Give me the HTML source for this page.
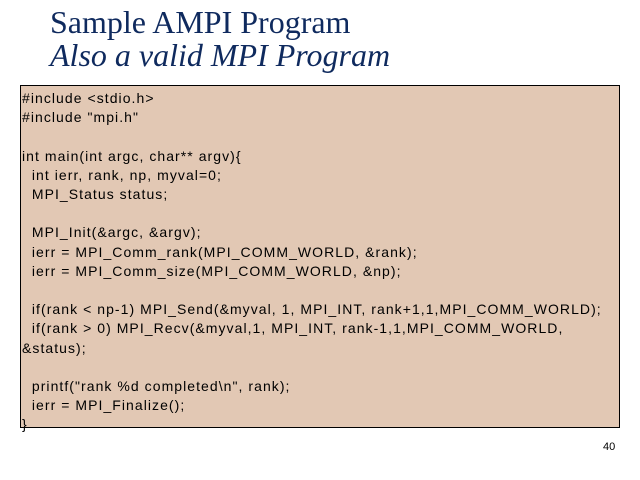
<!DOCTYPE html>
<html><head><style>
body{margin:0;width:640px;height:480px;background:#fff;position:relative;overflow:hidden}
.t{position:absolute;left:50px;font-family:"Liberation Serif",serif;color:#0f2a5e;font-size:32px;white-space:nowrap}
#box{position:absolute;left:20px;top:85px;width:598px;height:341px;background:#e2c8b4;border:1px solid #000}
pre{position:absolute;left:22px;top:89px;margin:0;font-family:"Liberation Sans",sans-serif;font-size:14px;letter-spacing:1.05px;line-height:19.2px;color:#000}
#n{position:absolute;left:603px;top:441px;font-family:"Liberation Sans",sans-serif;font-size:11px}
</style></head><body>
<div class="t" style="top:4px">Sample AMPI Program</div>
<div class="t" style="top:37px;font-style:italic">Also a valid MPI Program</div>
<div id="box"></div>
<pre>#include &lt;stdio.h&gt;
#include "mpi.h"

int main(int argc, char** argv){
  int ierr, rank, np, myval=0;
  MPI_Status status;

  MPI_Init(&amp;argc, &amp;argv);
  ierr = MPI_Comm_rank(MPI_COMM_WORLD, &amp;rank);
  ierr = MPI_Comm_size(MPI_COMM_WORLD, &amp;np);

  if(rank &lt; np-1) MPI_Send(&amp;myval, 1, MPI_INT, rank+1,1,MPI_COMM_WORLD);
  if(rank &gt; 0) MPI_Recv(&amp;myval,1, MPI_INT, rank-1,1,MPI_COMM_WORLD,
&amp;status);

  printf("rank %d completed\n", rank);
  ierr = MPI_Finalize();
}</pre>
<div id="n">40</div>
</body></html>
